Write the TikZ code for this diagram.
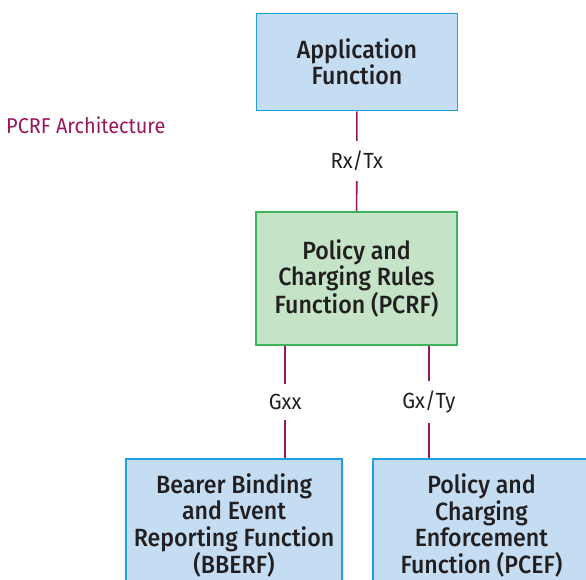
\documentclass[tikz,border=0pt]{standalone}
\usepackage{fontspec}
\setmainfont{Fira Sans}[FakeStretch=0.93]
\newfontfamily\boxfont{Fira Sans Medium}[FakeStretch=0.93]
\usetikzlibrary{positioning}
\definecolor{boxblue}{RGB}{197,221,242}
\definecolor{edgeblue}{RGB}{30,160,222}
\definecolor{boxgreen}{RGB}{196,227,199}
\definecolor{edgegreen}{RGB}{64,180,90}
\definecolor{linkred}{RGB}{152,22,94}
\definecolor{textgray}{RGB}{35,31,32}
\tikzstyle{func} = [draw=edgeblue, fill=boxblue, line width=1.6bp,
    align=center, text=textgray, font=\boxfont\fontsize{25}{26.5}\selectfont,
    minimum width=201bp, minimum height=97bp, inner sep=0pt]
\tikzstyle{rules} = [func, draw=edgegreen, fill=boxgreen, minimum height=133bp]
\tikzset{
    link/.style={draw=linkred, line width=1.6bp},
    lbl/.style={fill=white, text=textgray, inner xsep=3bp, inner ysep=10bp,
        font=\fontsize{22}{24}\selectfont}
}

\begin{document}
\begin{tikzpicture}[x=1bp,y=-1bp]
\clip (0,0) rectangle (586,580);
    %boxes
    \node[func] (af) at (357,62) {Application\\Function};
    \node[rules] (pcrf) at (356.5,278.5) {Policy and\\Charging Rules\\Function (PCRF)};
    \node[func, minimum width=216bp, minimum height=133bp] (bberf) at (234,525.5)
        {Bearer Binding\\and Event\\Reporting Function\\(BBERF)};
    \node[func, minimum width=217bp, minimum height=133bp] (pcef) at (481.5,525.5)
        {Policy and\\Charging\\Enforcement\\Function (PCEF)};
    \node[anchor=west, text=linkred, font=\fontsize{21.5}{24}\selectfont, inner sep=0pt]
        (title) at (6,125) {PCRF Architecture};
    %reference points
    \draw[link] (af) -- node[lbl] {Rx/Tx} (pcrf);
    \draw[link] ([xshift=30bp]pcrf.south west) -- node[lbl] {Gxx}
        ([xshift=30bp]pcrf.south west |- bberf.north);
    \draw[link] ([xshift=-29bp]pcrf.south east) -- node[lbl] {Gx/Ty}
        ([xshift=-29bp]pcrf.south east |- pcef.north);
\end{tikzpicture}
\end{document}
